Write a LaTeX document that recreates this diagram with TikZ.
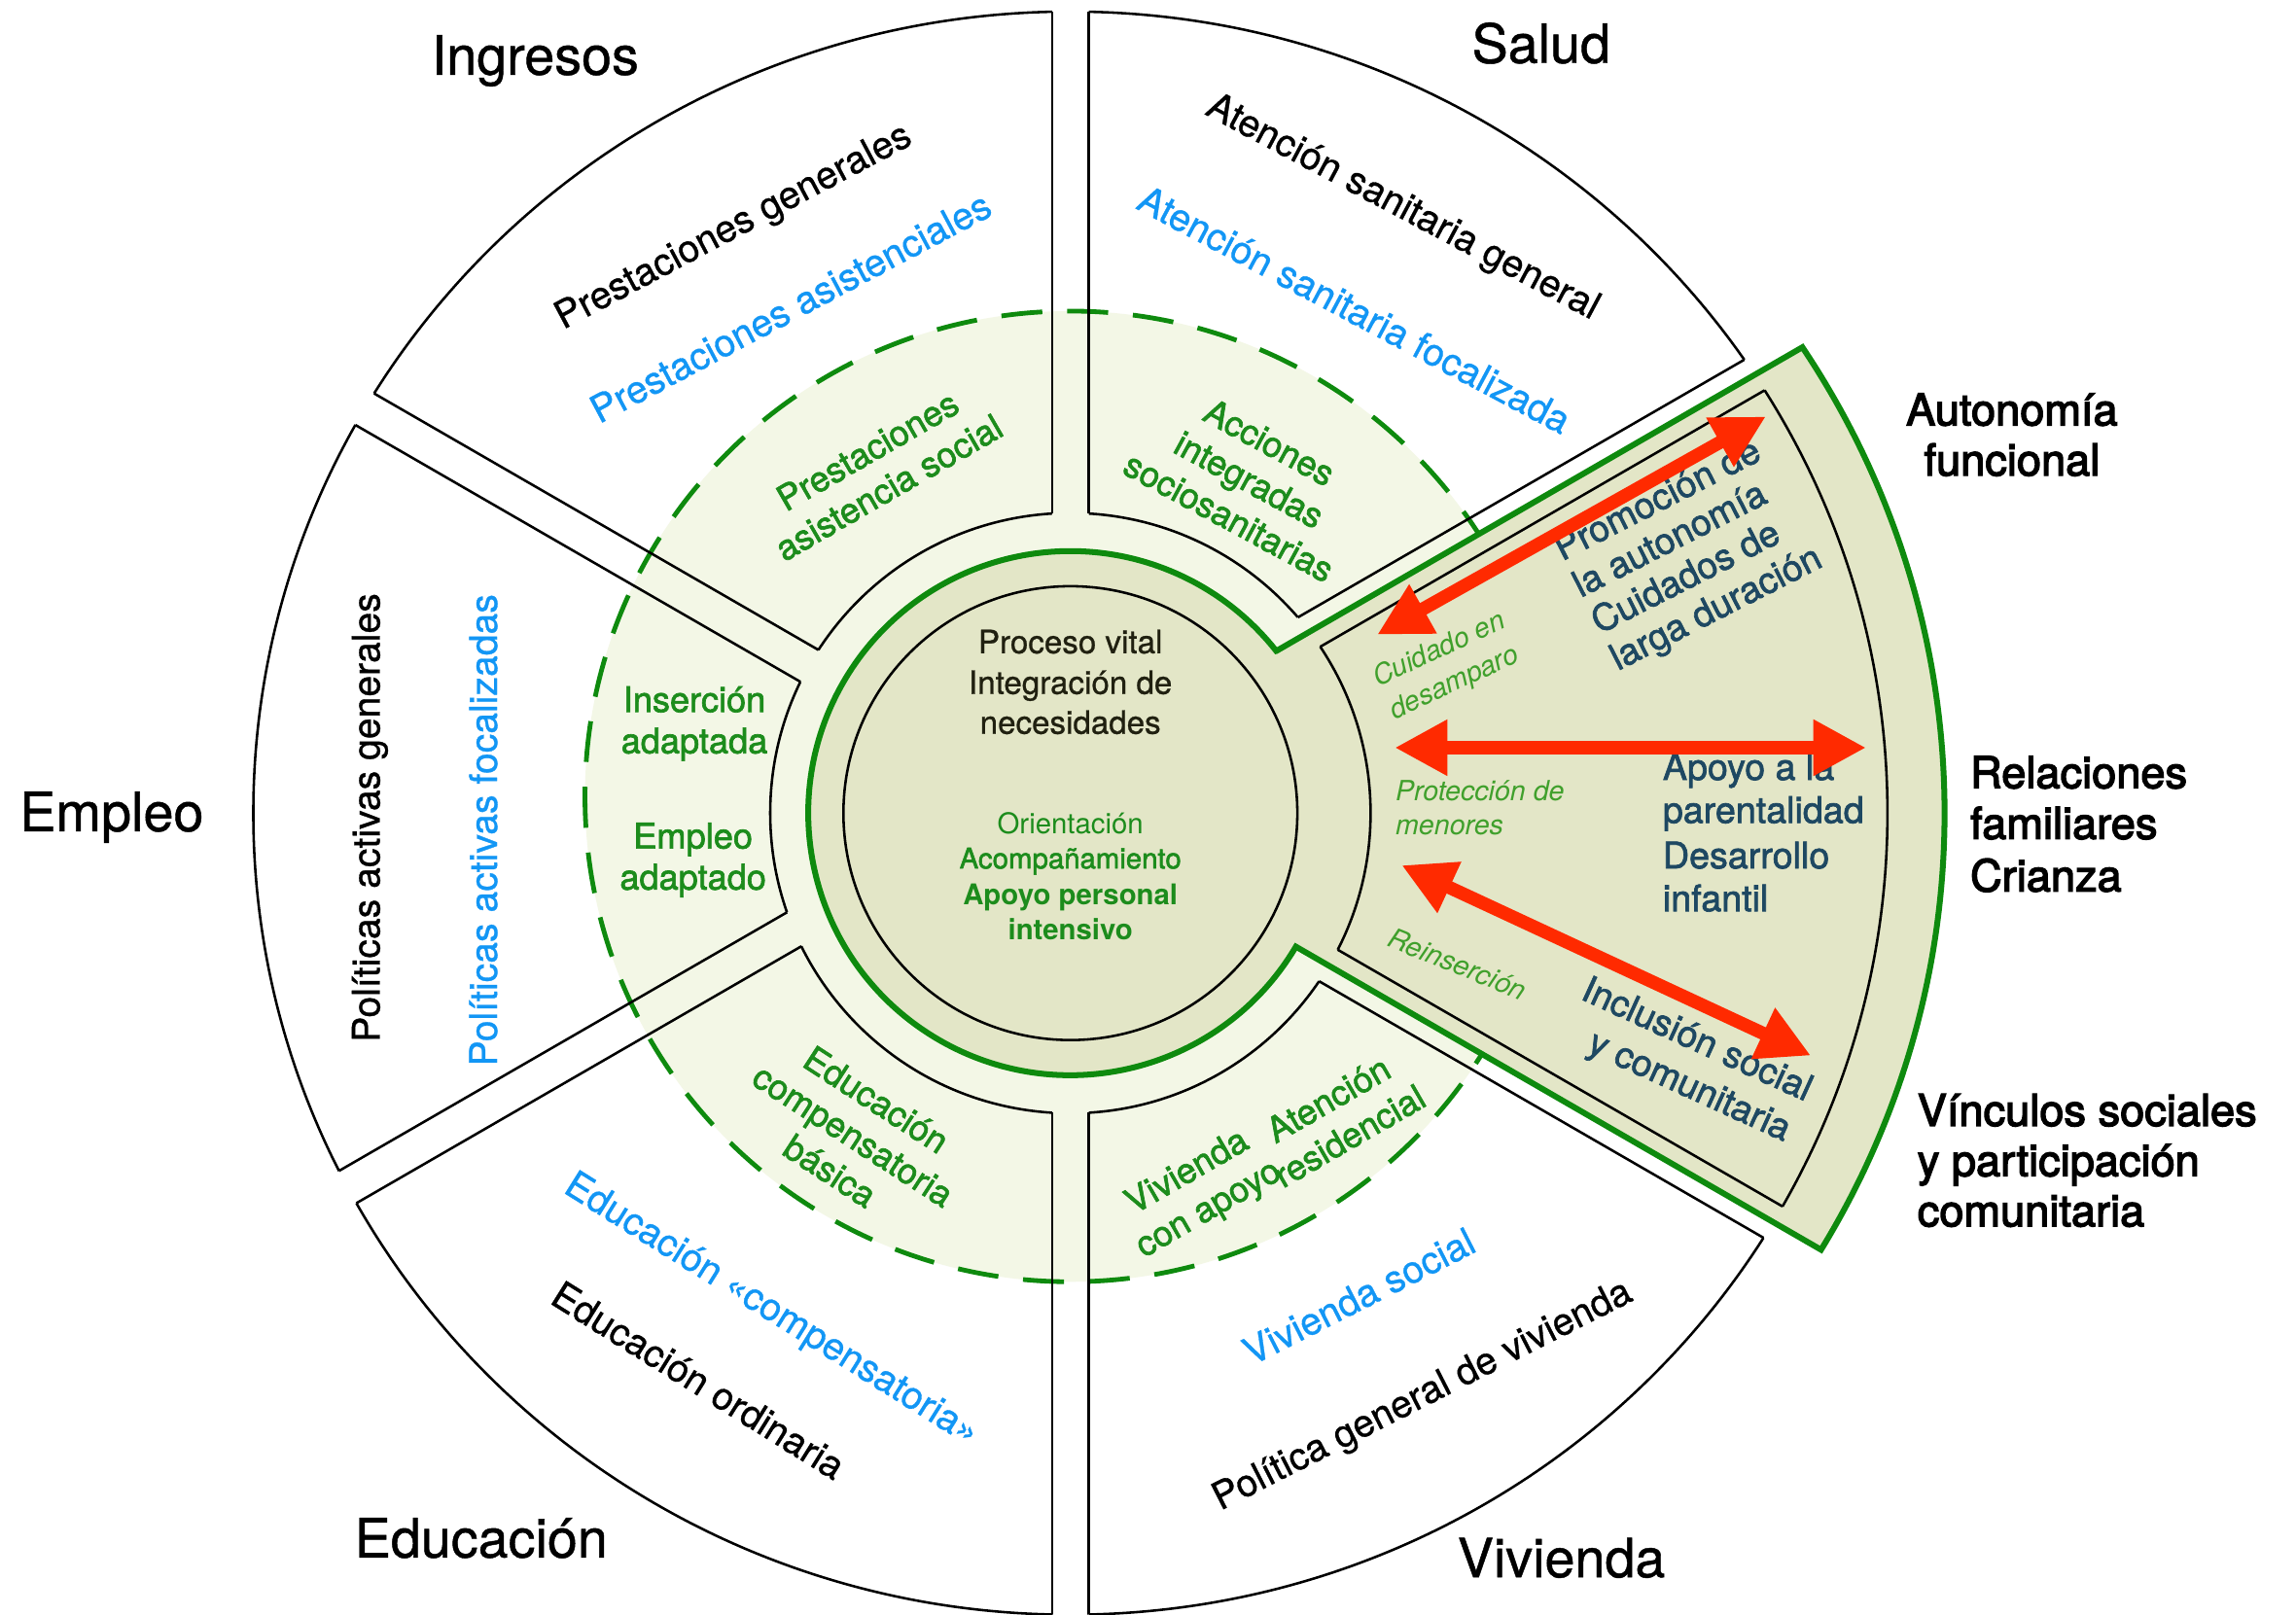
\documentclass[tikz,border=0pt]{standalone}
\usepackage{fontspec}
\setmainfont{TeX Gyre Heros}
\newfontfamily\regfont{TeX Gyre Heros}[FakeBold=0.8]
\newfontfamily\medfont{TeX Gyre Heros}[FakeBold=1.8]
\newfontfamily\heavyfont{TeX Gyre Heros}[FakeBold=3]
\usetikzlibrary{arrows.meta}

\definecolor{ringgreen}{RGB}{14,138,14}
\definecolor{palegreen}{RGB}{243,247,230}
\definecolor{olivefill}{RGB}{227,230,199}
\definecolor{labelgreen}{RGB}{28,140,28}
\definecolor{softgreen}{RGB}{64,160,44}
\definecolor{skyblue}{RGB}{18,150,245}
\definecolor{slateteal}{RGB}{30,72,98}
\definecolor{arrowred}{RGB}{255,42,0}
\definecolor{coretext}{RGB}{32,32,16}

\begin{document}
\begin{tikzpicture}[x=1pt, y=1pt,
  every node/.style={inner sep=0pt, outer sep=0pt},
  sectorline/.style={draw=black, line width=1.7pt},
  areatitle/.style={font=\regfont\fontsize{37}{44}\selectfont, anchor=base},
  sidelabel/.style={font=\heavyfont\fontsize{30}{34.5}\selectfont},
  ringtext/.style={font=\regfont\fontsize{26}{31}\selectfont, anchor=center},
  bluetext/.style={ringtext, text=skyblue},
  greenlabel/.style={font=\medfont\fontsize{24}{29}\selectfont, text=labelgreen, align=center},
  tealtext/.style={font=\medfont\fontsize{25}{29}\selectfont, text=slateteal},
  softlabel/.style={font=\fontsize{19}{24}\selectfont\itshape, text=softgreen, anchor=base west},
  coreline/.style={font=\regfont\fontsize{22}{27.5}\selectfont, text=coretext, anchor=base},
  supportline/.style={font=\fontsize{19.5}{24}\selectfont, text=labelgreen, anchor=base},
  strongline/.style={font=\fontsize{19.5}{24}\selectfont\bfseries, text=labelgreen, anchor=base},
  twoway/.style={draw=arrowred, line width=9pt, {Triangle[length=36pt,width=36pt]}-{Triangle[length=36pt,width=36pt]}}
]
\useasboundingbox (-731,-547.6) rectangle (837,555.4);
\fill[white] (-731,-547.6) rectangle (837,555.4);

% pale inner disk with dashed rim
\draw[fill=palegreen, draw=ringgreen, line width=3.2pt, dash pattern=on 28pt off 17pt]
  (0,11.4) circle[radius=331.5pt];

% olive core joined to the highlighted right sector
\draw[fill=olivefill, draw=ringgreen, line width=4pt, line join=miter]
  (38.22:179) -- (499.9,318.2)
  arc[x radius=597pt, y radius=582pt, start angle=33.14, end angle=-30.83]
  -- (154.0,-91.2)
  arc[radius=179pt, start angle=-30.63, end angle=-321.78] -- cycle;

% straight sector edges, trimmed by the outer ellipse
\begin{scope}
  \clip (0,0) ellipse[x radius=558pt, y radius=547.5pt];
  \draw[sectorline] (12.5,204.62) -- (12.5,700);
  \draw[sectorline] (12.5,-204.62) -- (12.5,-700);
  \draw[sectorline] (-12.5,204.62) -- (-12.5,700);
  \draw[sectorline] (-12.5,-204.62) -- (-12.5,-700);
  \draw[sectorline] (155.39,133.72) -- (587.2,383.0);
  \draw[sectorline] (-193.49,-67.72) -- (-625.3,-317.0);
  \draw[sectorline] (170.61,113.63) -- (599.7,361.3);
  \draw[sectorline] (-183.71,-90.95) -- (-612.8,-338.7);
  \draw[sectorline] (182.54,-93.28) -- (611.5,-340.9);
  \draw[sectorline] (-172.04,111.46) -- (-601.0,359.1);
  \draw[sectorline] (169.84,-114.81) -- (599.0,-362.6);
  \draw[sectorline] (-184.34,89.69) -- (-613.5,337.4);
\end{scope}

% inner and outer arcs of each sector
\begin{scope}
  \clip (12.5,51.22) -- (12.5,1051.2) -- (878.5,551.2) -- cycle;
  \draw[sectorline] (0,0) circle[radius=205pt];
  \draw[sectorline] (0,0) ellipse[x radius=558pt, y radius=547.5pt];
\end{scope}
\begin{scope}
  \clip (-12.5,19.34) -- (-12.5,1019.3) -- (-878.5,519.3) -- cycle;
  \draw[sectorline] (0,0) circle[radius=205pt];
  \draw[sectorline] (0,0) ellipse[x radius=558pt, y radius=547.5pt];
\end{scope}
\begin{scope}
  \clip (-52.6,13.63) -- (-918.6,513.6) -- (-918.6,-486.4) -- cycle;
  \draw[sectorline] (0,0) circle[radius=205pt];
  \draw[sectorline] (0,0) ellipse[x radius=558pt, y radius=547.5pt];
\end{scope}
\begin{scope}
  \clip (-12.5,7.9) -- (-878.5,-492.1) -- (-12.5,-992.1) -- cycle;
  \draw[sectorline] (0,0) circle[radius=205pt];
  \draw[sectorline] (0,0) ellipse[x radius=558pt, y radius=547.5pt];
\end{scope}
\begin{scope}
  \clip (12.5,-23.96) -- (12.5,-1024) -- (878.5,-524) -- cycle;
  \draw[sectorline] (0,0) circle[radius=205pt];
  \draw[sectorline] (0,0) ellipse[x radius=558pt, y radius=547.5pt];
\end{scope}
\begin{scope}
  \clip (-2.6,13.63) -- (863.4,513.6) -- (863.4,-486.4) -- cycle;
  \draw[sectorline] (0,0) circle[radius=205pt];
  \draw[sectorline] (0,0) ellipse[x radius=558pt, y radius=547.5pt];
\end{scope}

% central circle
\draw[sectorline] (0,0) circle[radius=155pt];

% area titles
\node[areatitle] (tIngresos) at (-365.5,504.4) {Ingresos};
\node[areatitle] (tSalud) at (321.5,512.4) {Salud};
\node[areatitle] (tEmpleo) at (-654.7,-12.3) {Empleo};
\node[areatitle] (tEducacion) at (-402.4,-508.4) {Educación};
\node[areatitle] (tVivienda) at (335.3,-521.9) {Vivienda};

% labels beside the highlighted sector
\node[sidelabel, anchor=base] (sAuto1) at (643,264.9) {Autonomía};
\node[sidelabel, anchor=base] (sAuto2) at (643,230.6) {funcional};
\node[sidelabel, anchor=base west] (sRel1) at (614.6,17.1) {Relaciones};
\node[sidelabel, anchor=base west] (sRel2) at (614.6,-17.6) {familiares};
\node[sidelabel, anchor=base west] (sRel3) at (614.6,-53.4) {Crianza};
\node[sidelabel, anchor=base west] (sVin1) at (578.5,-213.6) {Vínculos sociales};
\node[sidelabel, anchor=base west] (sVin2) at (578.5,-247.9) {y participación};
\node[sidelabel, anchor=base west] (sVin3) at (578.5,-282.2) {comunitaria};

% core texts
\node[coreline] (core1) at (0,109.2) {Proceso vital};
\node[coreline] (core2) at (0,81.4) {Integración de};
\node[coreline] (core3) at (0,54.2) {necesidades};
\node[supportline] (core4) at (0,-14.1) {Orientación};
\node[supportline, font=\medfont\fontsize{19.5}{24}\selectfont] (core5) at (0,-37.8) {Acompañamiento};
\node[strongline] (core6) at (0,-62.5) {Apoyo personal};
\node[strongline] (core7) at (0,-86.2) {intensivo};

% Ingresos
\node[ringtext, rotate=28] (ing1) at (-229.7,399.7) {Prestaciones generales};
\node[bluetext, rotate=28] (ing2) at (-191.2,345.6) {Prestaciones asistenciales};
\node[greenlabel, rotate=30] (ing3) at (-131.3,235.0) {Prestaciones\\asistencia social};

% Salud
\node[ringtext, rotate=-28] (sal1) at (226.7,413.1) {Atención sanitaria general};
\node[bluetext, rotate=-28] (sal2) at (194,344.1) {Atención sanitaria focalizada};
\node[greenlabel, rotate=-28.5] (sal3) at (122.2,227.8) {Acciones\\integradas\\sociosanitarias};

% Empleo
\node[ringtext, rotate=90, anchor=base] (emp1) at (-471.7,-3.1) {Políticas activas generales};
\node[bluetext, rotate=90, anchor=base] (emp2) at (-391.6,-11.6) {Políticas activas focalizadas};
\node[greenlabel, anchor=base] (emp3) at (-256.8,69.1) {Inserción};
\node[greenlabel, anchor=base] (emp4) at (-256.8,40.9) {adaptada};
\node[greenlabel, anchor=base] (emp5) at (-257.7,-24.1) {Empleo};
\node[greenlabel, anchor=base] (emp6) at (-257.7,-52.2) {adaptado};

% Educación
\node[ringtext, rotate=-32] (edu1) at (-254,-387.3) {Educación ordinaria};
\node[bluetext, rotate=-32] (edu2) at (-204.5,-339.9) {Educación «compensatoria»};
\node[greenlabel, rotate=-33] (edu3) at (-148.3,-220) {Educación\\compensatoria\\básica};

% Vivienda
\node[ringtext, rotate=27] (viv1) at (240.8,-398.6) {Política general de vivienda};
\node[bluetext, rotate=27] (viv2) at (197,-330) {Vivienda social};
\node[greenlabel, rotate=30] (viv3) at (87.5,-258.6) {Vivienda\\con apoyo};
\node[greenlabel, rotate=30] (viv4) at (183.3,-207.9) {Atención\\residencial};

% highlighted sector
\node[tealtext, rotate=27, anchor=base west] (aut1) at (335.9,172) {Promoción de};
\node[tealtext, rotate=27, anchor=base west] (aut2) at (348.6,147.05) {la autonomía};
\node[tealtext, rotate=27, anchor=base west] (aut3) at (361.3,122.1) {Cuidados de};
\node[tealtext, rotate=27, anchor=base west] (aut4) at (374.0,97.15) {larga duración};
\node[tealtext, anchor=base west] (par1) at (404.6,22.7) {Apoyo a la};
\node[tealtext, anchor=base west] (par2) at (404.6,-6.7) {parentalidad};
\node[tealtext, anchor=base west] (par3) at (404.6,-37.7) {Desarrollo};
\node[tealtext, anchor=base west] (par4) at (404.6,-67) {infantil};
\node[tealtext, rotate=-24.5] (inc1) at (428.5,-153.7) {Inclusión social};
\node[tealtext, rotate=-24.5] (inc2) at (422.2,-187.9) {y comunitaria};
\node[softlabel, rotate=25] (soft1) at (210.1,86.1) {Cuidado en};
\node[softlabel, rotate=25] (soft2) at (221.6,63.9) {desamparo};
\node[softlabel] (soft3) at (222.1,8.5) {Protección de};
\node[softlabel] (soft4) at (222.1,-14.6) {menores};
\node[softlabel, rotate=-22] (soft5) at (215.5,-90.6) {Reinserción};

% double-headed arrows
\coordinate (upA) at (209.5,121.9);
\coordinate (upB) at (475,270.9);
\coordinate (midA) at (221.5,44.7);
\coordinate (midB) at (543.4,44.7);
\coordinate (lowA) at (226.2,-35.6);
\coordinate (lowB) at (505.7,-165.6);
\draw[twoway] (upA) -- (upB);
\draw[twoway] (midA) -- (midB);
\draw[twoway] (lowA) -- (lowB);
\end{tikzpicture}
\end{document}
